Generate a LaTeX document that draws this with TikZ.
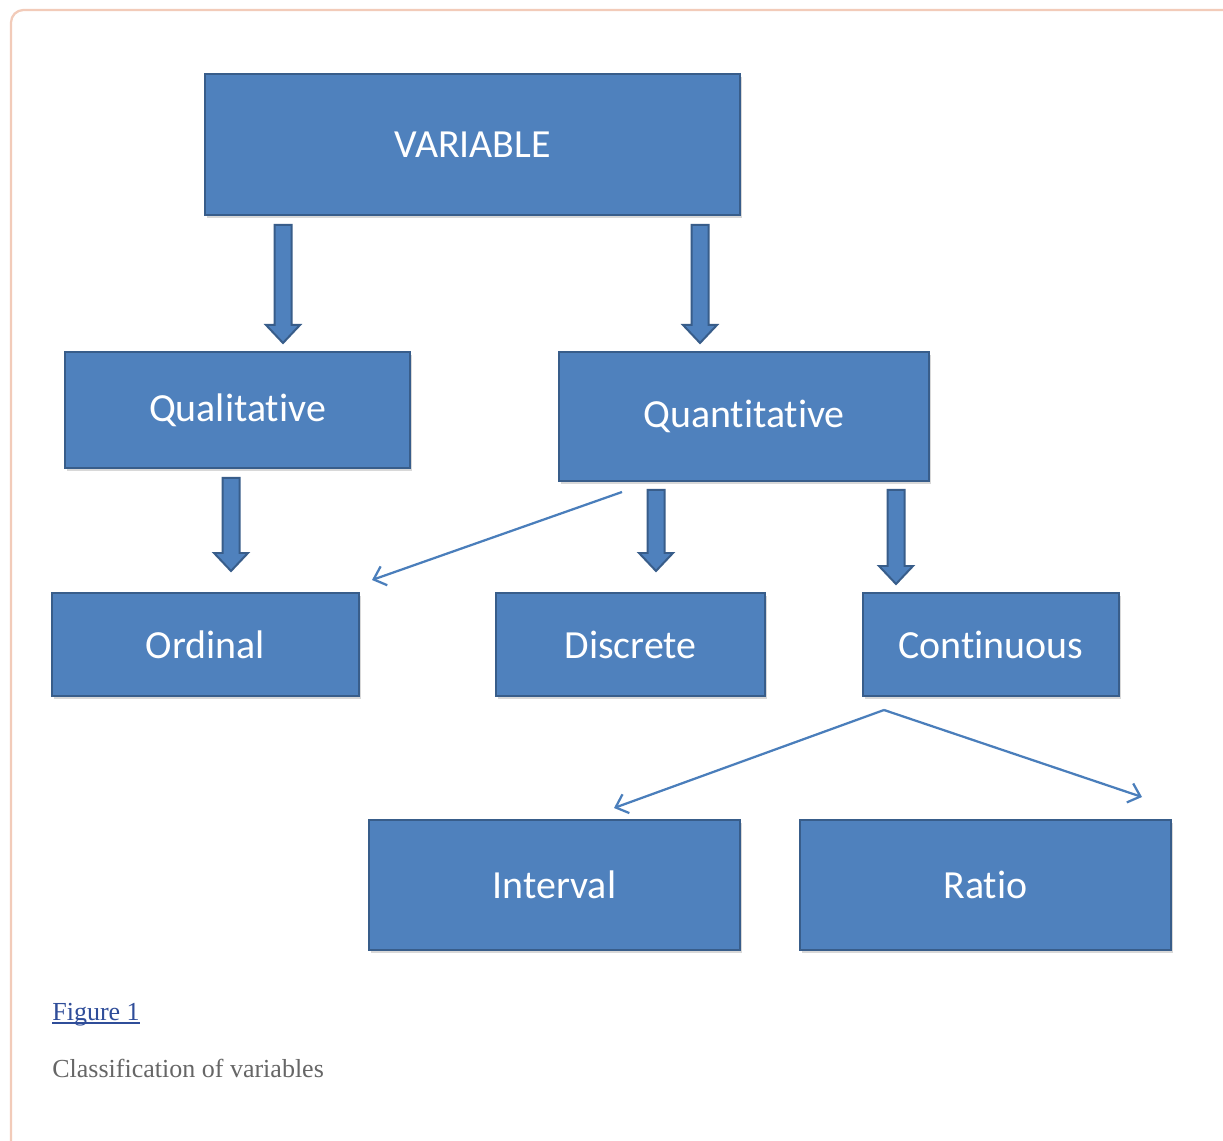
\documentclass[tikz,border=0pt]{standalone}
\usepackage{fontspec}
\setmainfont{Liberation Serif}
\newfontfamily\boxfont[Ligatures=NoCommon]{Carlito}
\usetikzlibrary{arrows.meta,shadows}
\definecolor{boxfill}{HTML}{4F81BD}
\definecolor{boxline}{HTML}{385D8A}
\definecolor{thinline}{HTML}{4A7EBB}
\definecolor{framecol}{HTML}{F2CBB9}
\definecolor{linkblue}{HTML}{2F4D99}
\definecolor{capgray}{HTML}{666666}
\tikzset{
 box/.style={draw=boxline, fill=boxfill, line width=0.05cm, text=white,
   font=\boxfont\fontsize{22.7}{27}\selectfont, inner sep=0pt,
   drop shadow={opacity=0.3, shadow xshift=0.04cm, shadow yshift=-0.06cm}},
 blockarrow/.style={draw=boxline, fill=boxfill, line width=0.04cm, line join=miter},
 thinarrow/.style={draw=thinline, line width=0.045cm, -{Straight Barb[length=0.22cm,width=0.4cm]}},
}
\newcommand\mybox[6]{\node[box, minimum width={(#4-#2)*0.02cm}, minimum height={(#5-#3)*0.02cm}] (#1) at ({(#2+#4)/2},{(#3+#5)/2}) {#6};}
\newcommand\blockarr[3]{\path[blockarrow] (#1-8.5,#2) -- (#1+8.5,#2) -- (#1+8.5,#3-18) -- (#1+17,#3-18) -- (#1,#3) -- (#1-17,#3-18) -- (#1-8.5,#3-18) -- cycle;}
\begin{document}
\begin{tikzpicture}[x=0.02cm,y=-0.02cm]
\useasboundingbox (0,0) rectangle (1223,1141);
\fill[white] (0,0) rectangle (1223,1141);
\draw[framecol, line width=0.045cm, rounded corners=0.25cm] (11,1180) -- (11,10) -- (1260,10);

\mybox{var}{205}{74}{740}{215}{VARIABLE}
\mybox{qual}{65}{352}{410}{468}{Qualitative}
\mybox{quant}{559}{352}{929}{481}{Quantitative}
\mybox{ord}{52}{593}{359}{696}{Ordinal}
\mybox{disc}{496}{593}{765}{696}{Discrete}
\mybox{cont}{863}{593}{1119}{696}{Continuous}
\mybox{int}{369}{820}{740}{950}{Interval}
\mybox{ratio}{800}{820}{1171}{950}{Ratio}

\blockarr{283}{225}{343}
\blockarr{700}{225}{343}
\blockarr{231}{478}{571}
\blockarr{656}{490}{571}
\blockarr{896}{490}{584}

\coordinate (qs) at (622,492);
\coordinate (oe) at (372,580);
\coordinate (cs) at (884,710);
\coordinate (ie) at (614,808);
\coordinate (re) at (1142,797);
\draw[thinarrow] (qs) -- (oe);
\draw[thinarrow] (cs) -- (ie);
\draw[thinarrow] (cs) -- (re);

\node[anchor=base west, text=linkblue, font=\fontsize{14.8}{18}\selectfont, inner sep=0pt] (fig) at (52,1020) {Figure 1};
\draw[linkblue, line width=0.035cm] ([yshift=-1.6pt]fig.base west) -- ([yshift=-1.6pt]fig.base east);
\node[anchor=base west, text=capgray, font=\fontsize{14.8}{18}\selectfont, inner sep=0pt] (cap) at (52,1077) {Classification of variables};
\end{tikzpicture}
\end{document}
